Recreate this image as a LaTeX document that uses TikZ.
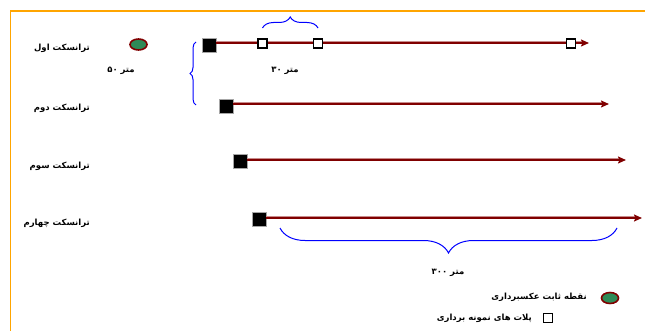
\documentclass[tikz,border=0pt]{standalone}
\usepackage{fontspec}
\newfontfamily\fa[Script=Arabic]{DejaVu Sans}
\TeXXeTstate=1
\usetikzlibrary{arrows.meta,decorations.pathreplacing,shapes.geometric}
\definecolor{trred}{RGB}{128,0,0}
\definecolor{trhalo}{RGB}{200,140,140}
\definecolor{frameor}{RGB}{255,165,0}
\definecolor{stakegreen}{RGB}{46,139,87}
\definecolor{bracebl}{RGB}{0,0,255}
\tikzset{
  lbl/.style={font=\fa\bfseries\fontsize{8.5}{10}\selectfont, inner sep=0pt},
  translinehalo/.style={draw=trhalo, line width=3pt},
  transline/.style={draw=trred, line width=1.6pt, -{Stealth[length=8pt,width=7pt,inset=1.5pt]}},
  bigsq/.style={rectangle, fill=black, draw=gray!70, line width=0.6pt, minimum size=14pt, inner sep=0pt},
  plotsq/.style={rectangle, fill=white, draw=black, line width=1.3pt, minimum size=9pt, inner sep=0pt},
  stake/.style={ellipse, fill=stakegreen, draw=trred, line width=1.6pt, minimum width=17pt, minimum height=11pt, inner sep=0pt},
  bluebrace/.style={draw=bracebl, line width=1pt, decorate, decoration={brace, amplitude=#1}},
}
\begin{document}
\begin{tikzpicture}[x=1pt,y=-1pt]
\useasboundingbox (0,0) rectangle (645,331);
% frame
\draw[frameor, line width=1.5pt] (10.5,331) -- (10.5,11) -- (645,11);

% transect 1
\node[bigsq] (s1) at (209,45) {};
\coordinate (e1) at (589,43);
\draw[translinehalo] (s1.east |- e1) -- ([xshift=-6pt]e1);
\draw[transline] (s1.east |- e1) -- (e1);
\node[plotsq] (p1) at (262.5,43.5) {};
\node[plotsq] (p2) at (318,43.5) {};
\node[plotsq] (p3) at (571,43.5) {};
\node[stake] (st) at (138.5,44.5) {};
\node[lbl, anchor=east] (t1) at (90,48) {\beginR ترانسکت اول\endR};
\node[lbl] (m50) at (121,71) {\beginR متر ۵۰\endR};
\node[lbl] (m30) at (285,71) {\beginR متر ۳۰\endR};
\draw[bluebrace=11pt] (p1.north |- 0,28) -- (p2.north |- 0,28);
\draw[bluebrace=6pt] (196,105) -- (196,42);

% transect 2
\node[bigsq] (s2) at (226,106) {};
\coordinate (e2) at (609,104);
\draw[translinehalo] (s2.east |- e2) -- ([xshift=-6pt]e2);
\draw[transline] (s2.east |- e2) -- (e2);
\node[lbl, anchor=east] (t2) at (90,108) {\beginR ترانسکت دوم\endR};

% transect 3
\node[bigsq] (s3) at (240,161.5) {};
\coordinate (e3) at (626,160);
\draw[translinehalo] (s3.east |- e3) -- ([xshift=-6pt]e3);
\draw[transline] (s3.east |- e3) -- (e3);
\node[lbl, anchor=east] (t3) at (90,166) {\beginR ترانسکت سوم\endR};

% transect 4
\node[bigsq] (s4) at (259,219) {};
\coordinate (e4) at (642,218);
\draw[translinehalo] (s4.east |- e4) -- ([xshift=-6pt]e4);
\draw[transline] (s4.east |- e4) -- (e4);
\node[lbl, anchor=east] (t4) at (90,223) {\beginR ترانسکت چهارم\endR};
\draw[bluebrace=25pt] (617,228) -- (280,228);
\node[lbl] (m300) at (448,273) {\beginR متر ۳۰۰\endR};

% legend
\node[stake] (lg1) at (610,298) {};
\node[lbl, anchor=east] (lt1) at (587,297) {\beginR نقطه ثابت عکسبرداری\endR};
\node[plotsq] (lg2) at (548,318) {};
\node[lbl, anchor=east] (lt2) at (532,318) {\beginR پلات های نمونه برداری\endR};
\end{tikzpicture}
\end{document}
